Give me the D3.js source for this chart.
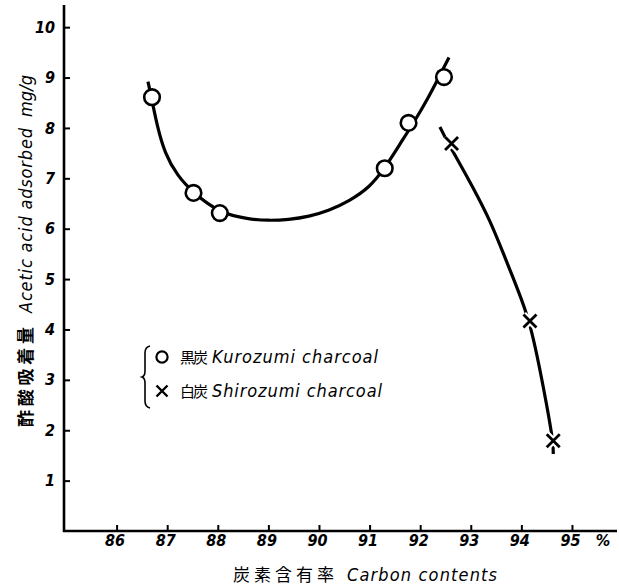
<!DOCTYPE html>
<html>
<head>
<meta charset="utf-8">
<script src="https://cdn.jsdelivr.net/npm/d3@7"></script>
<style>
  html, body { margin: 0; padding: 0; background: #fff; }
  svg { display: block; }
  .lat { font-family: "DejaVu Sans Condensed", "DejaVu Sans", sans-serif; font-stretch: condensed; font-style: oblique; }
  .num { font-weight: bold; }
  .cjk { font-family: "Noto Sans CJK JP", "Noto Sans CJK SC", sans-serif; }
</style>
</head>
<body>
<svg id="chart" width="619" height="586"></svg>
<script>
// Axis ticks
const xTicks = [86, 87, 88, 89, 90, 91, 92, 93, 94, 95];
const yTicks = [1, 2, 3, 4, 5, 6, 7, 8, 9, 10];

// Measured points: 黒炭 (Kurozumi) and 白炭 (Shirozumi)
const kuroX = [86.70, 87.52, 88.04, 91.30, 91.77, 92.47];
const kuroY = [8.61, 6.71, 6.31, 7.20, 8.10, 9.01];
const shiroX = [92.62, 94.17, 94.63];
const shiroY = [7.69, 4.17, 1.79];

// Hand-drawn trend curves through the measurements
const kuroCurveX = [86.62, 86.70, 86.80, 86.95, 87.20, 87.52, 88.04, 88.60, 89.00, 89.40, 89.80, 90.20, 90.60, 91.00, 91.30, 91.60, 91.90, 92.15, 92.37, 92.57];
const kuroCurveY = [8.92, 8.55, 8.05, 7.50, 7.05, 6.71, 6.31, 6.19, 6.16, 6.18, 6.24, 6.36, 6.55, 6.82, 7.20, 7.68, 8.15, 8.58, 9.01, 9.40];
const shiroCurveX = [92.39, 92.55, 92.69, 93.04, 93.38, 93.64, 93.91, 94.17, 94.41, 94.63, 94.63];
const shiroCurveY = [8.02, 7.70, 7.46, 6.83, 6.17, 5.52, 4.84, 4.17, 3.00, 1.79, 1.53];

// Legend entries
const legendJa = ["黒炭", "白炭"];
const legendEn = ["Kurozumi charcoal", "Shirozumi charcoal"];

const svg = d3.select("#chart");

const x = d3.scaleLinear().domain([85, 95.9]).range([66, 617.5]);
const y = d3.scaleLinear().domain([0, 10.44]).range([531, 5]);

const axisX0 = 64, axisY0 = 531;

// X axis
const gx = svg.append("g").attr("transform", `translate(0,${axisY0})`)
  .call(d3.axisBottom(x).tickValues(xTicks).tickSize(-6).tickPadding(4).tickFormat(d3.format("d")));
gx.select(".domain").remove();
gx.selectAll(".tick line").attr("stroke", "#000").attr("stroke-width", 2);
gx.selectAll(".tick text").attr("class", "lat num").attr("font-size", 16).attr("dx", -2).attr("fill", "#000");
svg.append("line").attr("x1", axisX0 - 1).attr("x2", 617).attr("y1", axisY0).attr("y2", axisY0)
  .attr("stroke", "#000").attr("stroke-width", 2.6);
svg.append("text").attr("class", "lat num").attr("font-size", 16).attr("x", 603).attr("y", axisY0 + 4)
  .attr("dy", "0.71em").attr("text-anchor", "middle").text("%");

// Y axis
const gy = svg.append("g").attr("transform", `translate(${axisX0},0)`)
  .call(d3.axisLeft(y).tickValues(yTicks).tickSize(-6).tickPadding(9).tickFormat(d3.format("d")));
gy.select(".domain").remove();
gy.selectAll(".tick line").attr("stroke", "#000").attr("stroke-width", 2);
gy.selectAll(".tick text").attr("class", "lat num").attr("font-size", 16).attr("fill", "#000");
svg.append("line").attr("x1", axisX0).attr("x2", axisX0).attr("y1", y(0) + 1).attr("y2", y(10.44))
  .attr("stroke", "#000").attr("stroke-width", 2.6);

// Axis titles
const xt = svg.append("g");
xt.append("text").attr("class", "cjk").attr("font-size", 17).attr("x", 233).attr("y", 581)
  .attr("textLength", 101).attr("lengthAdjust", "spacing").text("炭素含有率");
xt.append("text").attr("class", "lat").attr("font-size", 18).attr("x", 347).attr("y", 581)
  .attr("textLength", 150).attr("lengthAdjust", "spacing").text("Carbon contents");

const yt = svg.append("g").attr("transform", "translate(32,0) rotate(-90)");
yt.append("text").attr("class", "cjk").attr("font-size", 17).attr("font-weight", "bold").attr("x", -427).attr("y", 0)
  .attr("textLength", 100).attr("lengthAdjust", "spacing").text("酢酸吸着量");
yt.append("text").attr("class", "lat").attr("font-size", 18).attr("x", -313).attr("y", 0)
  .attr("textLength", 185).attr("lengthAdjust", "spacing").text("Acetic acid adsorbed");
yt.append("text").attr("class", "lat").attr("font-size", 18).attr("x", -117).attr("y", 0)
  .attr("textLength", 42).attr("lengthAdjust", "spacing").text("mg/g");

// Curves (smoothed B-spline through the traced control points)
const line = d3.line().x(d => x(d[0])).y(d => y(d[1])).curve(d3.curveBasis);
svg.append("path").datum(kuroCurveX.map((v, i) => [v, kuroCurveY[i]]))
  .attr("d", line).attr("fill", "none").attr("stroke", "#000").attr("stroke-width", 3.2).attr("stroke-linecap", "butt");
svg.append("path").datum(shiroCurveX.map((v, i) => [v, shiroCurveY[i]]))
  .attr("d", line).attr("fill", "none").attr("stroke", "#000").attr("stroke-width", 3.2).attr("stroke-linecap", "butt");

// Markers
function crossPath(cx, cy, s) {
  return `M${cx - s},${cy - s}L${cx + s},${cy + s}M${cx - s},${cy + s}L${cx + s},${cy - s}`;
}
svg.selectAll("circle.kuro").data(kuroX.map((v, i) => [v, kuroY[i]])).join("circle")
  .attr("class", "kuro").attr("cx", d => x(d[0])).attr("cy", d => y(d[1])).attr("r", 7.8)
  .attr("fill", "#fff").attr("stroke", "#000").attr("stroke-width", 2.6);
const shiroPts = shiroX.map((v, i) => [v, shiroY[i]]);
svg.selectAll("path.shiroBg").data(shiroPts).join("path").attr("class", "shiroBg")
  .attr("d", d => crossPath(x(d[0]), y(d[1]), 6.5)).attr("stroke", "#fff").attr("stroke-width", 7);
svg.selectAll("path.shiro").data(shiroPts).join("path").attr("class", "shiro")
  .attr("d", d => crossPath(x(d[0]), y(d[1]), 6.5)).attr("stroke", "#000").attr("stroke-width", 2.8);

// Legend
const lg = svg.append("g");
lg.append("path")
  .attr("d", "M150,346 Q145,347 145,353 L145,371 Q145,376 142,377 Q145,378 145,383 L145,401 Q145,407 150,408")
  .attr("fill", "none").attr("stroke", "#000").attr("stroke-width", 1.6);
const rowY = [357, 391];
lg.append("circle").attr("cx", 162).attr("cy", rowY[0]).attr("r", 5.6)
  .attr("fill", "#fff").attr("stroke", "#000").attr("stroke-width", 2.2);
lg.append("path").attr("d", crossPath(162, rowY[1], 5.5)).attr("stroke", "#000").attr("stroke-width", 2.4);
legendJa.forEach((t, i) => {
  lg.append("text").attr("class", "cjk").attr("font-size", 15).attr("x", 180).attr("y", rowY[i] + 6)
    .attr("textLength", 28).attr("lengthAdjust", "spacing").text(t);
});
legendEn.forEach((t, i) => {
  lg.append("text").attr("class", "lat").attr("font-size", 18).attr("x", 212).attr("y", rowY[i] + 6)
    .attr("textLength", i === 0 ? 166 : 170).attr("lengthAdjust", "spacing").text(t);
});
</script>
</body>
</html>
